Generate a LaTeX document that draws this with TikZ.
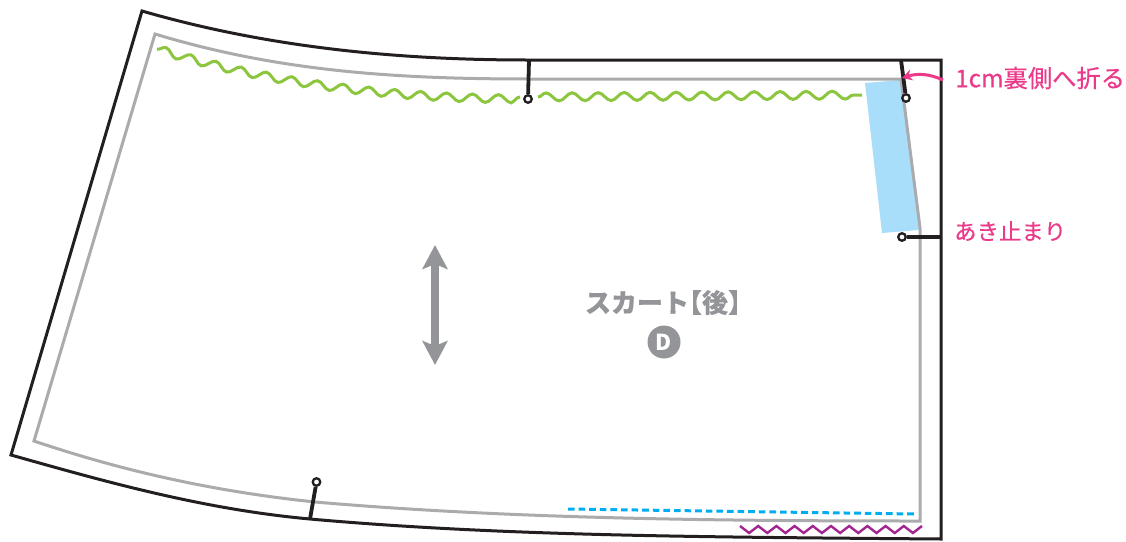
\documentclass[tikz,border=0pt]{standalone}
\usepackage{fontspec}
\usepackage{xcolor}
\usetikzlibrary{arrows.meta,decorations.pathmorphing}
\newfontfamily\cjk{Noto Sans CJK JP}
\definecolor{pinkink}{HTML}{EC3A8B}
\definecolor{greyink}{HTML}{939598}
\definecolor{seamgrey}{HTML}{ABABAD}
\definecolor{edgeblack}{HTML}{231F20}
\definecolor{wavegreen}{HTML}{8CC63F}
\definecolor{facingblue}{HTML}{A8DEFA}
\definecolor{dashblue}{HTML}{00AEEF}
\definecolor{zigpurple}{HTML}{A3248F}
\tikzstyle{pin}=[
    draw = edgeblack,
    line width = 2.3pt,
    fill = white,
    circle,
    inner sep = 0pt,
    minimum size = 7.5pt
]
\tikzstyle{note}=[
    text = pinkink,
    anchor = west,
    inner sep = 0pt
]

\begin{document}
\begin{tikzpicture}[x=1pt, y=-1pt, edge/.style = {draw = edgeblack, line width = 3pt}, stitch/.style = {draw = edgeblack, line width = 3.8pt}, seam/.style = {draw = seamgrey, line width = 3pt}, wave/.style = {draw = wavegreen, line width = 3pt, decorate, decoration = {snake, segment length = 26pt, amplitude = 4pt}}]
        \useasboundingbox (0,0) rectangle (1126,541);

        \fill[facingblue] (865,83) -- (901,80) -- (919,230) -- (882,233) -- cycle;

        \draw[seam, line join = miter] (155,34) .. controls (280,72) and (400,79) .. (530,79) -- (901,79) -- (920,228) -- (920,521) .. controls (700,521) and (500,518) .. (315,502) .. controls (210,491) and (120,470) .. (34,441) -- cycle;
        \draw[edge] (142,11) .. controls (270,48) and (400,60) .. (528,60) -- (941,60) -- (941,539) .. controls (700,537) and (500,536) .. (310,519) .. controls (200,509) and (100,480) .. (11,455) -- cycle;

        \coordinate (topmid) at (529,60);
        \coordinate (topright) at (901,60);
        \coordinate (sideright) at (941,237);
        \coordinate (hem) at (310,519);
        \node[pin] (pin1) at (528,99) {};
        \node[pin] (pin2) at (906,98) {};
        \node[pin] (pin3) at (902,237) {};
        \node[pin] (pin4) at (316.5,482) {};
        \draw[stitch] (topmid) -- (pin1);
        \draw[stitch] (topright) -- (pin2);
        \draw[stitch] (sideright) -- (pin3);
        \draw[stitch] (hem) -- (pin4);

        \draw[wave] (157,49) .. controls (270,84) and (400,97) .. (520,97);
        \draw[wave] (538,97) -- (862,95);
        \draw[dashblue, line width = 3pt, dash pattern = on 6.6pt off 4pt] (568,509) -- (915,514);
        \draw[zigpurple, line width = 2.4pt] (740,526) foreach \i in {1,...,10} { -- ({740+\i*18.2-9.1},533) -- ({740+\i*18.2},526)};

        \node[note, font = \cjk\addfontfeature{FakeBold=0.5}\fontsize{24.3}{24}\selectfont] (fold) at (955,78) {1cm裏側へ折る};
        \node[note, font = \cjk\addfontfeature{FakeBold=0.5}\fontsize{22.4}{22}\selectfont] (stop) at (954,231) {あき止まり};
        \coordinate (foldstart) at (943,80);
        \coordinate (foldend) at (902,78);
        \draw[pinkink, line width = 3pt, -{Stealth[length = 10pt, width = 11pt, inset = 3pt]}] (foldstart) .. controls (930,74) and (918,73) .. (foldend);

        \coordinate (grainup) at (435,245);
        \coordinate (graindown) at (435,365);
        \draw[greyink, line width = 8pt, {Stealth[length = 24pt, width = 25pt, inset = 5pt]}-{Stealth[length = 24pt, width = 25pt, inset = 5pt]}] (grainup) -- (graindown);

        \node[text = greyink, font = \cjk\bfseries\addfontfeature{FakeBold=0.4}\fontsize{26}{26}\selectfont, inner sep = 0pt] (title) at (663,302.5) {スカート{\addfontfeature{RawFeature=+halt}【}後{\addfontfeature{RawFeature=+halt}】}};
        \node[circle, fill = greyink, text = white, font = \cjk\bfseries\fontsize{22}{22}\selectfont, minimum size = 33pt, inner sep = 0pt] (piece) at (664,342) {D};
    \end{tikzpicture}
\end{document}
